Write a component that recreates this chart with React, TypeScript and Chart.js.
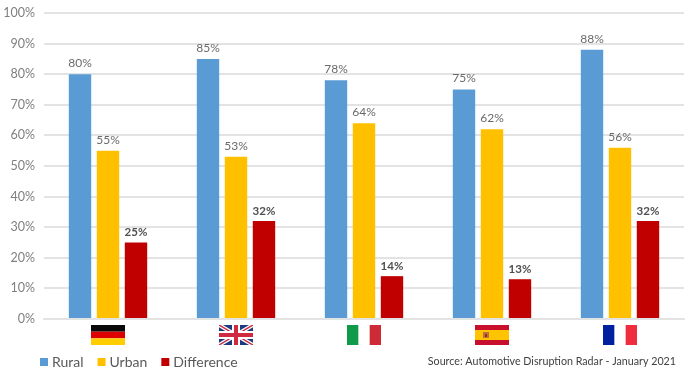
import React, { useEffect, useRef } from "react";
import { Chart, registerables } from "chart.js";

Chart.register(...registerables);

const countries = ["Germany", "United Kingdom", "Italy", "Spain", "France"];
const rural = [80, 85, 78, 75, 88];
const urban = [55, 53, 64, 62, 56];
const difference = [25, 32, 14, 13, 32];
const sourceText = "Source: Automotive Disruption Radar - January 2021";
const FONT = "Lato, Carlito, 'Open Sans', sans-serif";

function band(c: CanvasRenderingContext2D, x: number, y: number, w: number, h: number, col: string) {
  c.fillStyle = col;
  c.fillRect(x, y, w, h);
}

function drawFlag(c: CanvasRenderingContext2D, name: string, cx: number, y: number) {
  const w = 34, h = 20, x = cx - w / 2;
  if (name === "Germany") {
    band(c, x, y, w, h / 3, "#0a0a0a");
    band(c, x, y + h / 3, w, h / 3, "#dd0000");
    band(c, x, y + 2 * h / 3, w, h / 3, "#ffce00");
  } else if (name === "United Kingdom") {
    band(c, x, y, w, h, "#1f3a80");
    c.save();
    c.beginPath(); c.rect(x, y, w, h); c.clip();
    c.strokeStyle = "#ffffff"; c.lineWidth = 4;
    c.beginPath(); c.moveTo(x, y); c.lineTo(x + w, y + h); c.moveTo(x + w, y); c.lineTo(x, y + h); c.stroke();
    c.strokeStyle = "#cf2a40"; c.lineWidth = 1.5;
    c.beginPath(); c.moveTo(x, y); c.lineTo(x + w, y + h); c.moveTo(x + w, y); c.lineTo(x, y + h); c.stroke();
    c.restore();
    band(c, cx - 4, y, 8, h, "#ffffff");
    band(c, x, y + h / 2 - 4, w, 8, "#ffffff");
    band(c, cx - 2, y, 4, h, "#cf2a40");
    band(c, x, y + h / 2 - 2, w, 4, "#cf2a40");
  } else if (name === "Italy") {
    band(c, x, y, w / 3, h, "#0f9a4a");
    band(c, x + 2 * w / 3, y, w / 3, h, "#cf2b37");
  } else if (name === "Spain") {
    band(c, x, y, w, h, "#c8102e");
    band(c, x, y + 5, w, 10, "#ffc400");
    band(c, x + 8, y + 7, 6, 6, "#c0703a");
    band(c, x + 10, y + 9, 2, 3, "#a02a20");
  } else {
    band(c, x, y, w / 3, h, "#00209f");
    band(c, x + 2 * w / 3, y, w / 3, h, "#f02d3f");
  }
}

const extras = {
  id: "extras",
  afterLayout(chart: any) {
    chart.legend.left = 43 - 17;
    chart.legend.top = 338;
  },
  afterDatasetsDraw(chart: any) {
    const c: CanvasRenderingContext2D = chart.ctx;
    c.save();
    c.textAlign = "center";
    c.textBaseline = "middle";
    chart.data.datasets.forEach((ds: any, i: number) => {
      const meta = chart.getDatasetMeta(i);
      const bold = i === 2;
      c.font = `${bold ? "bold " : ""}${bold ? 11.5 : 12}px ${FONT}`;
      c.fillStyle = bold ? "#505050" : "#6a6a6a";
      meta.data.forEach((el: any, j: number) => {
        c.fillText(ds.data[j] + "%", el.x, el.y - (bold ? 10 : 11));
      });
    });
    const xs = chart.scales.x;
    countries.forEach((n, j) => drawFlag(c, n, xs.getPixelForValue(j), chart.chartArea.bottom + 6));
    c.font = `10.7px ${FONT}`;
    c.fillStyle = "#404040";
    c.textAlign = "right";
    c.fillText(sourceText, chart.width - 24, chart.height - 15);
    c.restore();
  },
};

export default function App() {
  const ref = useRef<HTMLCanvasElement>(null);
  useEffect(() => {
    document.body.style.margin = "0";
    const chart = new Chart(ref.current!, {
      type: "bar",
      data: {
        labels: countries,
        datasets: [
          { label: "Rural", data: rural, backgroundColor: "#5B9BD5" },
          { label: "Urban", data: urban, backgroundColor: "#FFC000" },
          { label: "Difference", data: difference, backgroundColor: "#C00000" },
        ],
      },
      options: {
        responsive: false,
        animation: false,
        layout: { padding: { left: 0, right: 16, top: 13, bottom: 0 } },
        datasets: { bar: { categoryPercentage: 0.656, barPercentage: 0.8 } },
        scales: {
          x: {
            grid: { display: false },
            border: { color: "#e3e3e3", width: 2 },
            ticks: { display: false },
            afterFit(s: any) { s.height = 17; },
          },
          y: {
            min: 0,
            max: 100,
            grid: { color: "#e3e3e3", lineWidth: 2, drawTicks: false },
            border: { display: false },
            ticks: {
              stepSize: 10,
              padding: 9,
              color: "#7f7f7f",
              font: { family: FONT, size: 12.5 },
              callback: (v: any) => v + "%",
            },
            afterFit(s: any) { s.width = 44; s.paddingTop = 0; s.paddingBottom = 0; },
          },
        },
        plugins: {
          tooltip: { enabled: false },
          legend: {
            position: "bottom",
            align: "start",
            labels: {
              boxWidth: 2,
              boxHeight: 2,
              padding: 17,
              color: "#595959",
              font: { family: FONT, size: 14 },
              generateLabels(ch: any) {
                return Chart.defaults.plugins.legend.labels.generateLabels(ch).map((it: any) => ({
                  ...it,
                  lineWidth: 6,
                  strokeStyle: it.fillStyle,
                }));
              },
            },
          },
        },
      },
      plugins: [extras],
    } as any);
    return () => chart.destroy();
  }, []);
  return (
    <div style={{ width: 700, height: 377 }}>
      <canvas ref={ref} width={700} height={377} style={{ display: "block" }} />
    </div>
  );
}
